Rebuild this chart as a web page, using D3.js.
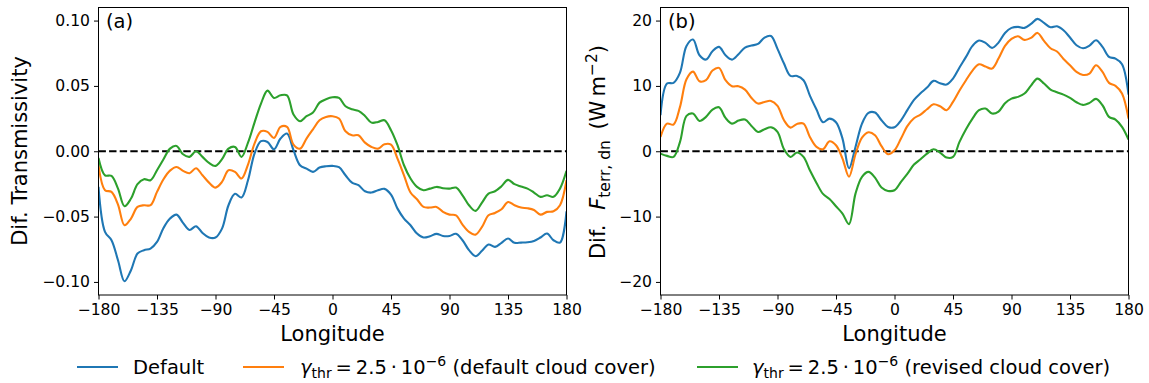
<!DOCTYPE html>
<html><head><meta charset="utf-8">
<script src="https://cdn.jsdelivr.net/npm/d3@7"></script>
<style>
body{margin:0;background:#fff;}
svg{font-family:"DejaVu Sans",sans-serif;}
</style></head>
<body><svg id="c" width="1149" height="383"></svg>
<script>
const lons = [-180,-175,-170,-165,-160,-155,-150,-145,-140,-135,-130,-125,-120,-115,-110,-105,-100,-95,-90,-85,-80,-75,-70,-65,-60,-55,-50,-45,-40,-35,-30,-25,-20,-15,-10,-5,0,5,10,15,20,25,30,35,40,45,50,55,60,65,70,75,80,85,90,95,100,105,110,115,120,125,130,135,140,145,150,155,160,165,170,175,180];

const transDefault = [-0.0273,-0.0617,-0.0681,-0.0834,-0.0995,-0.0910,-0.0783,-0.0757,-0.0745,-0.0694,-0.0587,-0.0515,-0.0485,-0.0548,-0.0602,-0.0574,-0.0625,-0.0660,-0.0660,-0.0592,-0.0413,-0.0326,-0.0354,-0.0222,-0.0018,0.0077,0.0071,0.0015,0.0097,0.0135,0.0008,-0.0107,-0.0133,-0.0158,-0.0125,-0.0115,-0.0112,-0.0122,-0.0184,-0.0240,-0.0260,-0.0306,-0.0316,-0.0298,-0.0288,-0.0332,-0.0439,-0.0515,-0.0566,-0.0630,-0.0660,-0.0650,-0.0632,-0.0648,-0.0648,-0.0632,-0.0681,-0.0757,-0.0803,-0.0762,-0.0714,-0.0732,-0.0701,-0.0668,-0.0701,-0.0699,-0.0696,-0.0686,-0.0660,-0.0630,-0.0681,-0.0699,-0.0459];
const transDefCloud = [-0.0107,-0.0298,-0.0311,-0.0408,-0.0566,-0.0515,-0.0426,-0.0413,-0.0413,-0.0311,-0.0214,-0.0148,-0.0120,-0.0150,-0.0168,-0.0130,-0.0184,-0.0240,-0.0278,-0.0235,-0.0145,-0.0158,-0.0209,-0.0102,0.0059,0.0153,0.0148,0.0102,0.0186,0.0186,0.0051,0.0020,0.0097,0.0168,0.0237,0.0263,0.0268,0.0250,0.0153,0.0122,0.0122,0.0066,0.0033,0.0020,0.0054,0.0051,-0.0056,-0.0184,-0.0316,-0.0367,-0.0426,-0.0431,-0.0426,-0.0464,-0.0485,-0.0490,-0.0561,-0.0617,-0.0638,-0.0579,-0.0490,-0.0472,-0.0444,-0.0388,-0.0413,-0.0431,-0.0436,-0.0449,-0.0485,-0.0464,-0.0459,-0.0413,-0.0222];
const transRevCloud = [-0.0051,-0.0184,-0.0189,-0.0286,-0.0421,-0.0362,-0.0252,-0.0214,-0.0222,-0.0145,-0.0061,0.0020,0.0041,-0.0023,-0.0043,0.0000,-0.0043,-0.0089,-0.0112,-0.0061,0.0020,0.0033,-0.0043,0.0066,0.0219,0.0365,0.0464,0.0408,0.0428,0.0428,0.0281,0.0230,0.0268,0.0296,0.0372,0.0398,0.0413,0.0408,0.0344,0.0321,0.0309,0.0270,0.0219,0.0224,0.0237,0.0161,0.0046,-0.0107,-0.0209,-0.0273,-0.0298,-0.0286,-0.0273,-0.0283,-0.0286,-0.0278,-0.0337,-0.0413,-0.0456,-0.0393,-0.0324,-0.0306,-0.0268,-0.0219,-0.0252,-0.0270,-0.0286,-0.0316,-0.0349,-0.0337,-0.0349,-0.0286,-0.0150];

const fluxDefault = [5.51,10.36,10.46,12.04,16.12,17.09,14.69,14.03,15.31,15.97,14.69,14.03,14.85,15.87,16.17,16.43,17.40,17.65,15.66,13.42,11.53,11.53,10.87,8.47,6.38,4.44,5.00,4.44,1.94,-2.60,0.66,4.23,5.87,5.92,4.74,3.72,3.67,4.74,6.33,7.86,8.88,9.74,10.77,10.41,10.20,11.12,12.81,14.44,16.12,16.94,16.58,15.82,16.63,18.11,18.88,19.03,18.88,19.49,20.26,19.64,18.98,19.13,18.52,17.40,16.22,15.77,16.17,16.99,15.97,14.44,14.18,13.32,8.67];
const fluxDefCloud = [2.19,4.23,4.08,6.79,11.02,12.19,10.71,10.87,12.35,12.76,10.87,9.95,9.95,9.44,8.16,7.30,7.55,7.70,6.94,4.74,3.62,4.18,4.23,2.14,0.66,0.31,1.53,0.92,-1.12,-3.90,-0.46,2.09,2.91,2.45,0.77,-0.46,0.15,1.94,3.88,5.05,5.61,6.43,7.19,6.89,6.28,7.55,9.29,10.87,12.35,13.32,12.96,12.65,14.18,16.12,17.19,17.60,17.04,17.35,18.11,16.89,15.77,15.26,14.13,13.16,12.14,11.68,11.89,13.16,12.14,10.46,10.00,8.83,5.00];
const fluxRevCloud = [-0.36,-0.71,-0.87,1.43,5.41,5.77,4.64,5.26,6.38,6.73,5.10,4.23,4.69,4.85,3.88,2.96,3.37,3.67,2.96,0.31,-0.87,-0.20,-0.87,-2.96,-4.85,-6.53,-7.30,-8.42,-9.54,-11.15,-6.48,-3.93,-3.16,-4.03,-5.56,-6.07,-5.97,-4.69,-3.42,-2.04,-1.22,-0.36,0.31,-0.20,-0.97,-0.87,1.43,3.37,5.00,6.28,6.53,5.77,6.07,7.35,8.06,8.32,8.83,10.05,11.12,10.36,9.44,9.03,8.67,8.16,7.50,7.09,7.40,8.01,7.04,5.26,4.85,3.72,1.79];

const xTicks = [-180,-135,-90,-45,0,45,90,135,180];
const yTicksA = [-0.10,-0.05,0.00,0.05,0.10];
const yTicksB = [-20,-10,0,10,20];
const seriesNames = ["Default","default cloud cover","revised cloud cover"];
const colors = ["#1f77b4","#ff7f0e","#2ca02c"];

const svg = d3.select("#c");
const FS = 15.6;

function panel(opts){
  const {x0,x1,y0,y1,domain,yTicks,yFmt,series,label} = opts;
  const x = d3.scaleLinear().domain([-180,180]).range([x0,x1]);
  const y = d3.scaleLinear().domain(domain).range([y1,y0]);
  const g = svg.append("g");
  const line = d3.line().x((d,i)=>x(lons[i])).y(d=>y(d)).curve(d3.curveCatmullRom.alpha(0.5));
  g.append("clipPath").attr("id","clip"+label).append("rect").attr("x",x0).attr("y",y0).attr("width",x1-x0).attr("height",y1-y0);
  g.append("line").attr("x1",x0).attr("x2",x1).attr("y1",y(0)).attr("y2",y(0))
    .attr("stroke","#000").attr("stroke-width",2).attr("stroke-dasharray","7.4,3.2");
  series.forEach((s,k)=>{
    g.append("path").datum(s).attr("d",line).attr("fill","none")
      .attr("stroke",colors[k]).attr("stroke-width",2.1).attr("stroke-linejoin","round")
      .attr("clip-path","url(#clip"+label+")");
  });
  const xa = g.append("g").attr("transform",`translate(0,${y1})`)
    .call(d3.axisBottom(x).tickValues(xTicks).tickSize(4.5).tickPadding(4).tickFormat(d3.format("d")));
  const ya = g.append("g").attr("transform",`translate(${x0},0)`)
    .call(d3.axisLeft(y).tickValues(yTicks).tickSize(4.5).tickPadding(4).tickFormat(yFmt));
  [xa,ya].forEach(a=>{
    a.select(".domain").remove();
    a.selectAll("text").attr("font-size",FS).attr("fill","#000").attr("font-family","DejaVu Sans");
    a.selectAll("line").attr("stroke","#000").attr("stroke-width",1);
  });
  g.append("rect").attr("x",x0).attr("y",y0).attr("width",x1-x0).attr("height",y1-y0)
    .attr("fill","none").attr("stroke","#000").attr("stroke-width",1);
  g.append("text").attr("x",x0+7.5).attr("y",y0+20).attr("font-size",19.5).text("("+label+")");
  g.append("text").attr("x",(x0+x1)/2).attr("y",341).attr("text-anchor","middle").attr("font-size",21).text("Longitude");
  return {x,y};
}

panel({x0:98.5,x1:566.5,y0:7.5,y1:295,domain:[-0.11,0.11],yTicks:yTicksA,yFmt:d3.format(".2f"),
  series:[transDefault,transDefCloud,transRevCloud],label:"a"});
panel({x0:660.5,x1:1128.5,y0:7.5,y1:295,domain:[-22,22],yTicks:yTicksB,yFmt:d3.format("d"),
  series:[fluxDefault,fluxDefCloud,fluxRevCloud],label:"b"});

// y labels
svg.append("text").attr("transform","translate(27,151) rotate(-90)").attr("text-anchor","middle")
  .attr("font-size",21).text("Dif. Transmissivity");
const yl = svg.append("text").attr("transform","translate(605,152) rotate(-90)").attr("text-anchor","middle").attr("font-size",21);
yl.append("tspan").text("Dif.\u2002\u2009");
yl.append("tspan").attr("font-style","italic").text("F");
yl.append("tspan").attr("font-size",15.5).attr("dy",5).text("terr, dn");
yl.append("tspan").attr("dy",-5).text("\u2002(W\u2009m");
yl.append("tspan").attr("font-size",15.5).attr("dy",-8).text("−2");
yl.append("tspan").attr("dy",8).text(")");

// legend
const LY = 367;
const LFS = 19.5;
const legendItems = [
  {x:77, tx:133, k:0},
  {x:243, tx:300, k:1},
  {x:697, tx:752, k:2}
];
legendItems.forEach(it=>{
  svg.append("line").attr("x1",it.x).attr("x2",it.x+41).attr("y1",LY).attr("y2",LY)
    .attr("stroke",colors[it.k]).attr("stroke-width",2.1);
  const t = svg.append("text").attr("x",it.tx).attr("y",LY+7).attr("font-size",LFS);
  if(it.k===0){ t.text(seriesNames[0]); }
  else {
    t.append("tspan").attr("font-style","italic").text("γ");
    t.append("tspan").attr("font-size",14).attr("dy",4).text("thr");
    t.append("tspan").attr("dy",-4).text("\u2009=\u20092.5\u2009·\u200910");
    t.append("tspan").attr("font-size",14).attr("dy",-8).text("−6");
    t.append("tspan").attr("dy",8).text(" (" + seriesNames[it.k] + ")");
  }
});
</script></body></html>
